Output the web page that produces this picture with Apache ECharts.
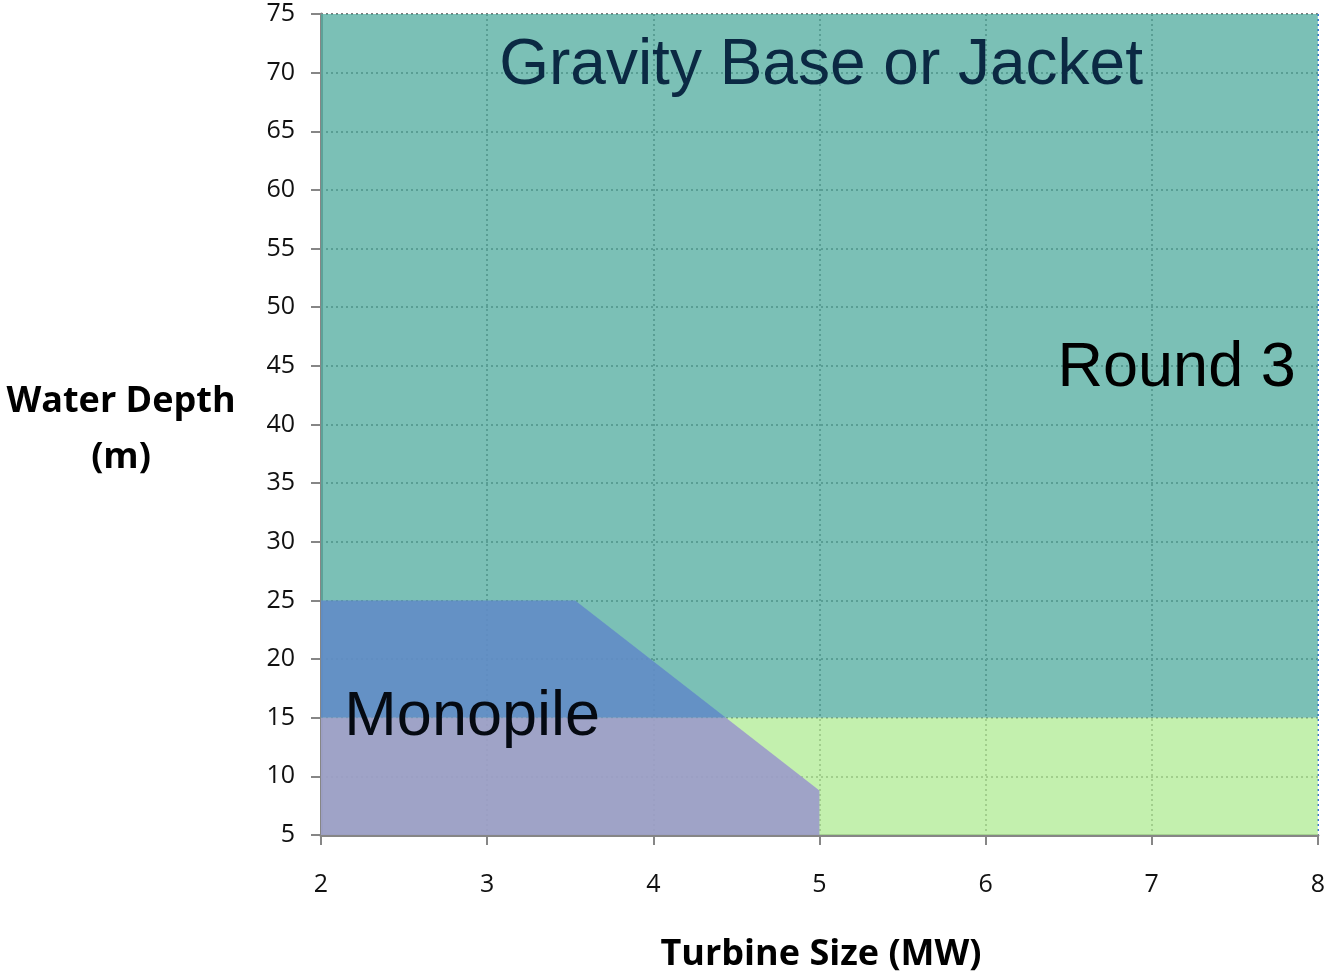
<!DOCTYPE html>
<html>
<head>
<meta charset="utf-8">
<script src="https://cdn.jsdelivr.net/npm/echarts@6/dist/echarts.min.js"></script>
<style>
  html, body { margin: 0; padding: 0; background: #fff; }
  #chart { width: 1328px; height: 974px; }
</style>
</head>
<body>
<div id="chart"></div>
<script>
// Axis ranges and ticks
const turbineTicks = [2, 3, 4, 5, 6, 7, 8];          // MW
const depthTicks = [5, 10, 15, 20, 25, 30, 35, 40, 45, 50, 55, 60, 65, 70, 75]; // m

// Foundation zones (turbine size MW, water depth m)
const gravityZone = [[2, 15], [8, 15], [8, 75], [2, 75]];
const shallowZone = [[2, 5], [8, 5], [8, 15], [2, 15]];
const monopileZone = [[2, 5], [2, 25], [3.53, 25], [5, 8.8], [5, 5]];
const bandDepth = 15; // boundary between the deep and shallow bands

// Zone labels: [turbine size, depth, text]
const zoneLabels = [
  [5.01, 70.5, 'Gravity Base or Jacket'],
  [7.15, 44.8, 'Round 3'],
  [2.91, 15.0, 'Monopile']
];
const zoneLabelColors = ['#0b2943', '#000000', '#050a12'];
const zoneLabelSizes = [64, 63, 63];

// Clip a polygon against a horizontal line (keep above or below it)
function clipDepth(poly, y0, keepAbove) {
  const inside = p => keepAbove ? p[1] >= y0 : p[1] <= y0;
  const out = [];
  for (let i = 0; i < poly.length; i++) {
    const a = poly[i], b = poly[(i + 1) % poly.length];
    const ia = inside(a), ib = inside(b);
    if (ia) out.push(a);
    if (ia !== ib) {
      const t = (y0 - a[1]) / (b[1] - a[1]);
      out.push([a[0] + t * (b[0] - a[0]), y0]);
    }
  }
  return out;
}
const monopileDeep = clipDepth(monopileZone, bandDepth, true);
const monopileShallow = clipDepth(monopileZone, bandDepth, false);

function zoneSeries(points, fill, z) {
  return {
    type: 'custom',
    z: z,
    silent: true,
    data: [0],
    renderItem: function (params, api) {
      return {
        type: 'polygon',
        shape: { points: points.map(p => api.coord(p)) },
        style: { fill: fill, stroke: null }
      };
    }
  };
}

const chart = echarts.init(document.getElementById('chart'), null, { renderer: 'canvas' });

const tickFont = { fontFamily: 'Open Sans', fontSize: 25, color: '#111' };
const gridDots = { width: 2, type: [2, 3] };

// vertical grid lines: gray, the right-hand border drawn in blue
const xLineColors = turbineTicks.map((t, i) => i === turbineTicks.length - 1 ? '#3f78d8' : '#7a7a7a');

chart.setOption({
  animation: false,
  grid: { left: 321, right: 10, top: 14, bottom: 139, containLabel: false },
  xAxis: {
    type: 'value',
    min: turbineTicks[0],
    max: turbineTicks[turbineTicks.length - 1],
    interval: 1,
    axisLine: { show: true, lineStyle: { color: '#868686', width: 3 } },
    axisTick: { show: true, length: 10, lineStyle: { color: '#868686', width: 2 } },
    axisLabel: Object.assign({ margin: 37 }, tickFont),
    splitLine: { show: true, lineStyle: Object.assign({ color: xLineColors }, gridDots) }
  },
  yAxis: {
    type: 'value',
    min: depthTicks[0],
    max: depthTicks[depthTicks.length - 1],
    interval: 5,
    axisLine: { show: true, lineStyle: { color: '#868686', width: 3 } },
    axisTick: { show: true, length: 10, lineStyle: { color: '#868686', width: 2 } },
    axisLabel: Object.assign({ margin: 26 }, tickFont),
    splitLine: { show: true, lineStyle: Object.assign({ color: '#7a7a7a' }, gridDots) }
  },
  series: [
    zoneSeries(gravityZone, 'rgba(79,171,158,0.75)', 2),
    zoneSeries(shallowZone, 'rgba(175,235,147,0.75)', 2),
    zoneSeries(monopileDeep, 'rgba(97,138,201,0.85)', 3),
    zoneSeries(monopileShallow, 'rgba(154,151,205,0.85)', 3),
    {
      type: 'scatter',
      z: 5,
      silent: true,
      symbolSize: 0,
      itemStyle: { color: 'transparent', opacity: 1 },
      data: zoneLabels.map((d, i) => ({
        value: [d[0], d[1]],
        name: d[2],
        label: { color: zoneLabelColors[i], fontSize: zoneLabelSizes[i] }
      })),
      label: {
        show: true,
        position: 'inside',
        formatter: p => p.name,
        fontFamily: 'Liberation Sans',
        align: 'center',
        verticalAlign: 'middle'
      },
      labelLayout: { hideOverlap: false }
    }
  ],
  graphic: [
    {
      type: 'text', x: 121, y: 402,
      style: { text: 'Water Depth', align: 'center', verticalAlign: 'middle',
               font: 'bold 36px "Open Sans"', fill: '#000' }
    },
    {
      type: 'text', x: 121, y: 458,
      style: { text: '(m)', align: 'center', verticalAlign: 'middle',
               font: 'bold 36px "Open Sans"', fill: '#000' }
    },
    {
      type: 'text', x: 821, y: 955,
      style: { text: 'Turbine Size (MW)', align: 'center', verticalAlign: 'middle',
               font: 'bold 36px "Open Sans"', fill: '#000' }
    }
  ]
});
</script>
</body>
</html>
